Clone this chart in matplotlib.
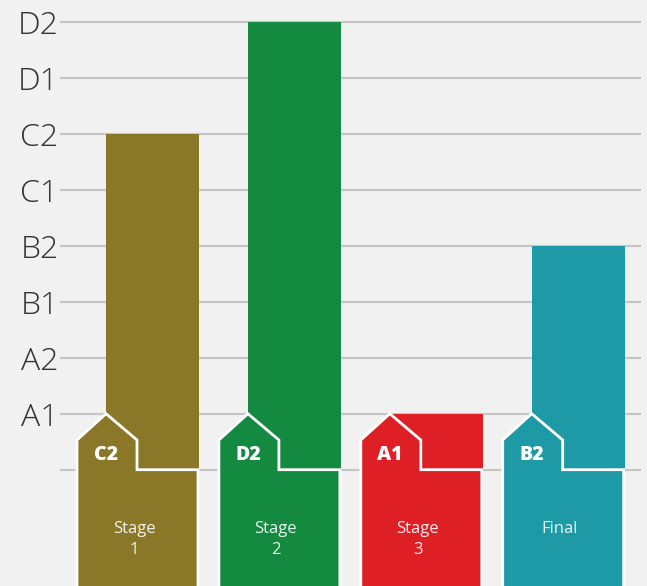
import matplotlib
matplotlib.use("Agg")
import matplotlib.pyplot as plt
from matplotlib.patches import Polygon

plt.rcParams['font.family'] = ['Open Sans', 'DejaVu Sans']

levels = ["A1", "A2", "B1", "B2", "C1", "C2", "D1", "D2"]
stages = ["Stage\n1", "Stage\n2", "Stage\n3", "Final"]
results = ["C2", "D2", "A1", "B2"]
colors = ["#8a7828", "#138a3f", "#de1f26", "#1e9aa6"]

W, H = 647, 586
fig = plt.figure(figsize=(W / 100, H / 100), dpi=100)
fig.patch.set_facecolor("#f1f1f1")

unit_x = 141.9
unit_y = 56.0
base_px = 469.7
c0_px = 152.5
ax_left_px, ax_right_px = 60, 641
ax = fig.add_axes([ax_left_px / W, 0, (ax_right_px - ax_left_px) / W, 1])
ax.set_facecolor("#f1f1f1")
ax.set_xlim((ax_left_px - c0_px) / unit_x, (ax_right_px - c0_px) / unit_x)
ax.set_ylim(-(H - base_px) / unit_y, base_px / unit_y)
for s in ax.spines.values():
    s.set_visible(False)
ax.set_xticks([])

for k in range(0, len(levels) + 1):
    ax.axhline(k, color="#c6c6c6", lw=1.6, zorder=0)

ax.set_yticks(range(1, len(levels) + 1))
ax.set_yticklabels(levels, fontsize=23, color="#333333", fontweight="light")
ax.tick_params(axis="y", length=0, pad=1)

bw = 93 / unit_x
vals = [levels.index(r) + 1 for r in results]
ax.bar(range(len(vals)), vals, width=bw, color=colors, zorder=2, linewidth=0)

px = 1 / unit_x
py = 1 / unit_y
bottom = -(H - base_px) / unit_y - 0.5
for i, (c, r, s) in enumerate(zip(colors, results, stages)):
    L = i - bw / 2
    sh_y = (base_px - 440) * py
    pts = [
        (L - 29 * px, bottom),
        (L - 29 * px, sh_y),
        (L, 1.0),
        (L + 31 * px, sh_y),
        (L + 31 * px, 0),
        (L + 92 * px, 0),
        (L + 92 * px, bottom),
    ]
    poly = Polygon(pts, closed=True, facecolor=c, edgecolor="white",
                   linewidth=2.0, joinstyle="miter", zorder=3)
    ax.add_patch(poly)
    ax.text(L, (base_px - 459.5) * py, r, color="white", fontsize=14,
            fontweight="heavy", ha="center", va="baseline", zorder=4)
    lines = s.split("\n")
    cx = L + 28 * px
    for j, ln in enumerate(lines):
        ax.text(cx, (base_px - 533 - 21 * j) * py, ln, color="white", alpha=0.9,
                fontsize=12, ha="center", va="baseline", zorder=4)

fig.savefig("out.png", dpi=100, facecolor=fig.get_facecolor())
